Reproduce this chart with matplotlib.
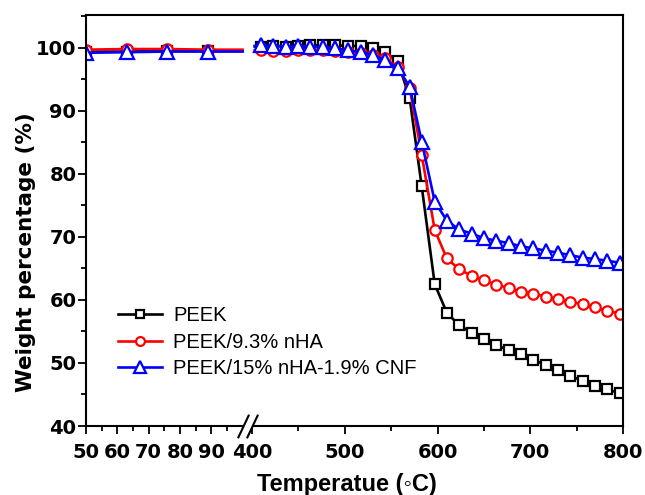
import numpy as np
import matplotlib
matplotlib.use("Agg")
import matplotlib.pyplot as plt
import matplotlib.transforms as mtransforms
from matplotlib.patches import Rectangle
from matplotlib.ticker import FixedLocator, MultipleLocator

# TGA data, low-temperature segment (50-100 C)
temp_low = [50, 63, 76, 89, 100]
peek_low = [99.4, 99.4, 99.5, 99.5, 99.5]
nha_low = [99.7, 99.8, 99.8, 99.7, 99.7]
cnf_low = [99.2, 99.3, 99.4, 99.4, 99.4]

# high-temperature segment (400-800 C)
temp_high = [403, 410, 423, 437, 450, 463, 477, 490, 503, 517, 530, 543, 557,
             570, 583, 597, 610, 623, 637, 650, 663, 677, 690, 703, 717, 730,
             743, 757, 770, 783, 797]
peek_high = [100.2, 100.2, 100.3, 100.2, 100.3, 100.4, 100.4, 100.4, 100.3,
             100.3, 100.0, 99.3, 97.9, 92.0, 78.0, 62.5, 58.0, 56.0, 54.8,
             53.8, 52.9, 52.0, 51.4, 50.5, 49.7, 48.9, 47.9, 47.2, 46.4,
             45.8, 45.2]
nha_high = [99.6, 99.6, 99.5, 99.5, 99.6, 99.6, 99.6, 99.5, 99.4, 99.2, 98.9,
            98.3, 97.0, 93.6, 83.0, 71.1, 66.6, 64.9, 63.8, 63.2, 62.4, 61.9,
            61.3, 61.0, 60.5, 60.1, 59.7, 59.3, 58.8, 58.3, 57.8]
cnf_high = [100.3, 100.4, 100.3, 100.2, 100.3, 100.2, 100.1, 99.9, 99.6, 99.3,
            98.9, 98.1, 96.8, 93.8, 85.1, 75.6, 72.6, 71.2, 70.5, 69.8, 69.4,
            69.0, 68.5, 68.2, 67.8, 67.5, 67.1, 66.7, 66.5, 66.2, 65.9]

labels = ["PEEK", "PEEK/9.3% nHA", "PEEK/15% nHA-1.9% CNF"]
colors = ["black", "red", "blue"]
markers = ["s", "o", "^"]
msizes = [7.5, 7.5, 9.5]

major_x = [50, 60, 70, 80, 90, 400, 500, 600, 700, 800]
minor_x = [55, 65, 75, 85, 95, 450, 550, 650, 750]

# broken x axis: 50-100 stretched, 400-800 compressed
brk_in = [50, 100, 400, 800]
brk_out = [0, 156.5, 166, 537]


def fwd(x):
    return np.interp(x, brk_in, brk_out)


def inv(x):
    return np.interp(x, brk_out, brk_in)


fig = plt.figure(figsize=(6.45, 4.95), dpi=100)
ax = fig.add_axes([86 / 645, 69 / 495, 537 / 645, 411 / 495])
ax.set_xscale("function", functions=(fwd, inv))

series = [(peek_low, peek_high), (nha_low, nha_high), (cnf_low, cnf_high)]
for (lo, hi), lab, c, m, ms in zip(series, labels, colors, markers, msizes):
    ax.plot(temp_low, lo, color=c, lw=1.9, marker=m, ms=ms, mfc="white",
            mec=c, mew=1.6, markevery=[0, 1, 2, 3])
    ax.plot(temp_high, hi, color=c, lw=1.9, marker=m, ms=ms, mfc="white",
            mec=c, mew=1.6, markevery=slice(1, None), label=lab)

ax.set_xlim(50, 800)
ax.set_ylim(40, 105.2)
ax.xaxis.set_major_locator(FixedLocator(major_x))
ax.xaxis.set_minor_locator(FixedLocator(minor_x))
ax.set_xticklabels([str(v) for v in major_x])
ax.yaxis.set_major_locator(MultipleLocator(10))
ax.yaxis.set_minor_locator(MultipleLocator(5))

for s in ax.spines.values():
    s.set_linewidth(1.5)
ax.tick_params(which="both", direction="out", width=1.3, top=False, right=False)
ax.tick_params(which="major", length=6)
ax.tick_params(which="minor", length=3.5)
ax.tick_params(axis="y", pad=1)
ax.tick_params(axis="x", pad=6.5)
for t in ax.get_xticklabels() + ax.get_yticklabels():
    t.set_fontfamily("DejaVu Sans")
    t.set_fontweight("bold")
    t.set_fontsize(14)

# axis break marks
trans = mtransforms.blended_transform_factory(ax.transData, ax.transAxes)
ax.add_patch(Rectangle((100, -0.01), 300, 0.02, transform=trans,
                       facecolor="white", edgecolor="none", zorder=3,
                       clip_on=False))
ax.plot([100, 400], [0, 0], transform=trans, linestyle="none",
        marker=[(-4, -8.5), (4, 8.5)], ms=17, mew=1.5, color="black",
        zorder=4, clip_on=False)

ax.set_xlabel("Temperatue (\u25e6C)", fontsize=17, fontweight="bold",
              family=["Liberation Sans", "DejaVu Sans"], labelpad=8)
ax.xaxis.label.set_x(0.486)
ax.set_ylabel("Weight percentage (%)", fontsize=15.5, fontweight="bold",
              family="DejaVu Sans", labelpad=0)
ax.yaxis.label.set_y(0.423)

ax.legend(loc="center left", bbox_to_anchor=(0.0596, 0.204), frameon=False,
          prop={"family": "Liberation Sans", "size": 14.5}, borderpad=0,
          borderaxespad=0, handlelength=2.2, handletextpad=0.55,
          labelspacing=0.37, markerscale=0.85)

plt.savefig("out.png", dpi=100)
